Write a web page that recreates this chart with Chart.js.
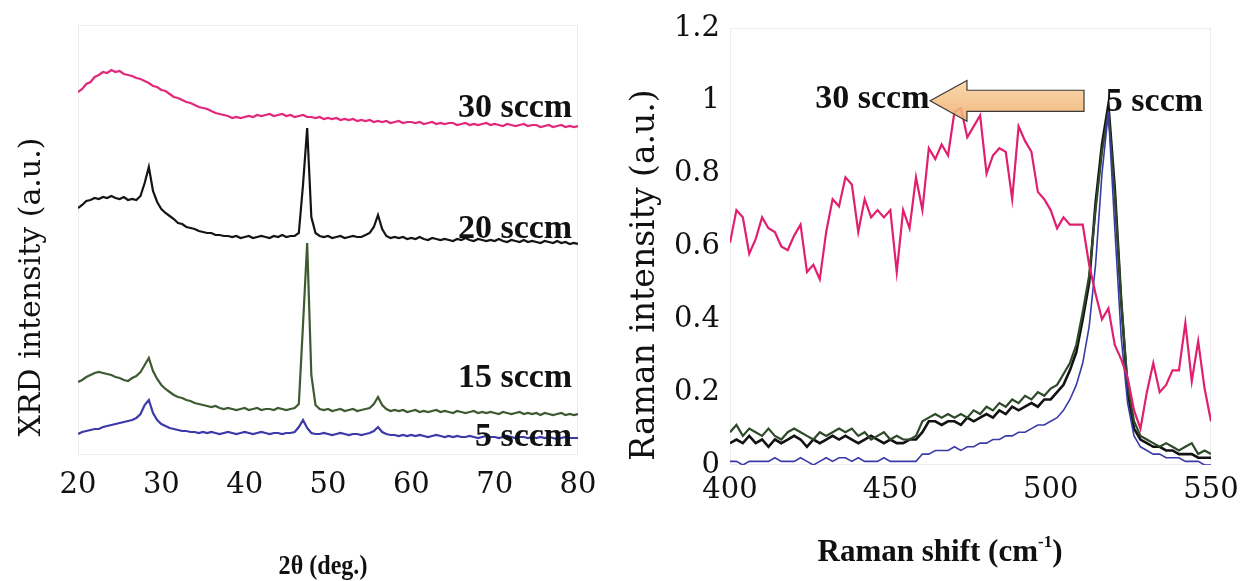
<!DOCTYPE html>
<html>
<head>
<meta charset="utf-8">
<script src="https://cdn.jsdelivr.net/npm/chart.js@4.4.1/dist/chart.umd.min.js"></script>
<style>
  html, body { margin: 0; padding: 0; background: #fff; }
  body { width: 1249px; height: 581px; position: relative; overflow: hidden; }
  .panel { position: absolute; top: 0; height: 581px; }
  #xrd-wrap { left: 0; width: 620px; }
  #raman-wrap { left: 620px; width: 629px; }
</style>
</head>
<body>
<div class="panel" id="xrd-wrap"><canvas id="xrd"></canvas></div>
<div class="panel" id="raman-wrap"><canvas id="raman"></canvas></div>
<script>
// ---- XRD patterns (2θ in degrees, intensity in arbitrary offset units) ----
const xrdAngles = [
  20, 20.5, 21, 21.5, 22, 22.5, 23, 23.5, 24, 24.5,
  25, 25.5, 26, 26.5, 27, 27.5, 28, 28.5, 29, 29.5,
  30, 30.5, 31, 31.5, 32, 32.5, 33, 33.5, 34, 34.5,
  35, 35.5, 36, 36.5, 37, 37.5, 38, 38.5, 39, 39.5,
  40, 40.5, 41, 41.5, 42, 42.5, 43, 43.5, 44, 44.5,
  45, 45.5, 46, 46.5, 47, 47.5, 48, 48.5, 49, 49.5,
  50, 50.5, 51, 51.5, 52, 52.5, 53, 53.5, 54, 54.5,
  55, 55.5, 56, 56.5, 57, 57.5, 58, 58.5, 59, 59.5,
  60, 60.5, 61, 61.5, 62, 62.5, 63, 63.5, 64, 64.5,
  65, 65.5, 66, 66.5, 67, 67.5, 68, 68.5, 69, 69.5,
  70, 70.5, 71, 71.5, 72, 72.5, 73, 73.5, 74, 74.5,
  75, 75.5, 76, 76.5, 77, 77.5, 78, 78.5, 79, 79.5,
  80
];

const xrd30sccm = [
  363, 366, 371, 373, 378, 380, 383, 382, 385, 383,
  384, 381, 380, 379, 377, 376, 374, 372, 369, 368,
  365, 364, 361, 358, 357, 355, 353, 352, 350, 348,
  347, 346, 344, 342, 341, 340, 339, 337, 338, 337,
  338, 339, 338, 340, 339, 340, 341, 339, 340, 341,
  339, 340, 338, 339, 340, 338, 338, 337, 338, 336,
  337, 336, 337, 335, 336, 335, 336, 334, 335, 334,
  335, 333, 334, 333, 334, 332, 333, 334, 332, 333,
  333, 332, 333, 331, 332, 333, 331, 332, 331, 332,
  332, 330, 331, 332, 330, 331, 330, 331, 332, 330,
  331, 330, 329, 331, 330, 329, 330, 331, 329, 330,
  330, 328, 329, 330, 328, 329, 330, 328, 329, 328,
  329
];

const xrd20sccm = [
  247, 250, 254, 255, 257, 256, 258, 257, 259, 257,
  256, 258, 255, 256, 255, 259, 272, 288, 264, 253,
  246, 242, 239, 236, 232, 231, 228, 227, 226, 224,
  223, 222, 222, 220, 220, 219, 219, 218, 219, 217,
  218, 219, 217, 218, 219, 218, 217, 219, 218, 220,
  218, 219, 219, 222, 270, 327, 238, 222, 219, 218,
  219, 217, 218, 219, 217, 218, 219, 218, 218, 220,
  222, 228, 240, 226, 219, 217, 218, 217, 218, 216,
  217, 216, 218, 216, 215, 217, 216, 215, 216, 215,
  214, 216, 215, 217, 215, 214, 216, 215, 214, 215,
  214, 216, 214, 213, 215, 214, 213, 215, 213, 214,
  213, 212, 214, 213, 212, 214, 212, 213, 211, 212,
  211
];

const xrd15sccm = [
  73, 75, 78, 80, 82, 83, 82, 81, 80, 78,
  77, 75, 74, 77, 79, 83, 90, 97, 84, 76,
  70, 66, 63, 60, 58, 57, 55, 54, 52, 51,
  50, 49, 48, 49, 47, 46, 47, 46, 45, 46,
  47, 45, 46, 47, 45, 46, 46, 45, 47, 46,
  45, 46, 47, 51, 130, 212, 80, 50, 46, 45,
  46, 44, 45, 46, 44, 45, 46, 44, 45, 46,
  47, 51, 58, 50, 46, 44, 45, 44, 45, 43,
  44, 45, 43, 44, 43, 44, 45, 43, 44, 43,
  42, 44, 43, 42, 43, 44, 42, 43, 42, 43,
  42, 41, 43, 42, 41, 42, 43, 41, 42, 41,
  42, 40, 42, 41, 40, 41, 42, 40, 41, 40,
  41
];

const xrd5sccm = [
  21, 23, 24, 25, 26, 26, 28, 29, 30, 31,
  32, 33, 34, 35, 37, 41, 50, 55, 42, 35,
  31, 29, 27, 26, 25, 24, 24, 23, 23, 22,
  23, 22, 23, 22, 21, 22, 23, 22, 21, 22,
  23, 22, 21, 22, 23, 22, 21, 22, 22, 21,
  22, 22, 23, 28, 35, 27, 22, 21, 21, 22,
  21, 20, 21, 22, 21, 20, 21, 21, 20, 21,
  22, 24, 28, 23, 21, 20, 20, 19, 20, 19,
  20, 19, 20, 19, 18, 19, 20, 19, 18, 19,
  18, 19, 18, 18, 19, 18, 17, 18, 19, 18,
  18, 17, 18, 19, 18, 17, 18, 18, 17, 18,
  17, 18, 17, 18, 17, 16, 17, 18, 17, 17,
  17
];

// ---- Raman spectra (normalised) ----
const ramanShift = [
  400, 402, 404, 406, 408, 410, 412, 414, 416, 418,
  420, 422, 424, 426, 428, 430, 432, 434, 436, 438,
  440, 442, 444, 446, 448, 450, 452, 454, 456, 458,
  460, 462, 464, 466, 468, 470, 472, 474, 476, 478,
  480, 482, 484, 486, 488, 490, 492, 494, 496, 498,
  500, 502, 504, 506, 508, 510, 512, 514, 516, 518,
  520, 522, 524, 526, 528, 530, 532, 534, 536, 538,
  540, 542, 544, 546, 548, 550
];

const raman30sccm = [
  0.61, 0.70, 0.68, 0.58, 0.62, 0.68, 0.65, 0.64, 0.60, 0.59,
  0.63, 0.66, 0.53, 0.55, 0.51, 0.64, 0.73, 0.71, 0.79, 0.77,
  0.64, 0.73, 0.68, 0.70, 0.68, 0.70, 0.53, 0.70, 0.65, 0.79,
  0.70, 0.87, 0.84, 0.88, 0.85, 0.97, 0.98, 0.90, 0.93, 0.96,
  0.80, 0.85, 0.87, 0.86, 0.73, 0.93, 0.89, 0.86, 0.75, 0.73,
  0.70, 0.65, 0.68, 0.66, 0.66, 0.66, 0.55, 0.47, 0.40, 0.43,
  0.33, 0.29, 0.24, 0.15, 0.10, 0.20, 0.28, 0.20, 0.22, 0.26,
  0.26, 0.39, 0.23, 0.34, 0.21, 0.12
];

const ramanBlack = [
  0.06, 0.07, 0.06, 0.08, 0.06, 0.07, 0.05, 0.07, 0.06, 0.07,
  0.08, 0.07, 0.05, 0.07, 0.06, 0.07, 0.08, 0.07, 0.08, 0.07,
  0.06, 0.07, 0.08, 0.07, 0.06, 0.07, 0.06, 0.06, 0.07, 0.07,
  0.09, 0.12, 0.12, 0.11, 0.12, 0.12, 0.11, 0.13, 0.12, 0.13,
  0.14, 0.13, 0.15, 0.14, 0.16, 0.15, 0.16, 0.17, 0.16, 0.18,
  0.18, 0.20, 0.22, 0.26, 0.31, 0.40, 0.50, 0.72, 0.88, 0.99,
  0.76, 0.45, 0.20, 0.10, 0.07, 0.06, 0.05, 0.05, 0.04, 0.04,
  0.03, 0.03, 0.03, 0.02, 0.02, 0.02
];

const ramanGreen = [
  0.09, 0.11, 0.08, 0.10, 0.09, 0.08, 0.10, 0.08, 0.07, 0.09,
  0.10, 0.09, 0.08, 0.07, 0.09, 0.08, 0.09, 0.10, 0.09, 0.10,
  0.08, 0.09, 0.07, 0.08, 0.09, 0.07, 0.08, 0.07, 0.07, 0.08,
  0.12, 0.13, 0.14, 0.13, 0.14, 0.13, 0.14, 0.13, 0.15, 0.14,
  0.16, 0.15, 0.17, 0.16, 0.18, 0.17, 0.19, 0.18, 0.20, 0.19,
  0.21, 0.22, 0.25, 0.28, 0.33, 0.42, 0.52, 0.70, 0.86, 0.97,
  0.74, 0.45, 0.22, 0.12, 0.08, 0.07, 0.06, 0.05, 0.06, 0.05,
  0.04, 0.05, 0.06, 0.03, 0.04, 0.03
];

const raman5sccm = [
  0.01, 0.01, 0.00, 0.01, 0.01, 0.01, 0.01, 0.02, 0.01, 0.01,
  0.01, 0.02, 0.01, 0.00, 0.01, 0.02, 0.01, 0.02, 0.02, 0.01,
  0.02, 0.01, 0.01, 0.01, 0.02, 0.01, 0.01, 0.01, 0.01, 0.01,
  0.03, 0.03, 0.04, 0.04, 0.04, 0.05, 0.04, 0.05, 0.05, 0.06,
  0.06, 0.07, 0.07, 0.08, 0.08, 0.09, 0.09, 0.10, 0.11, 0.11,
  0.12, 0.13, 0.15, 0.18, 0.22, 0.28, 0.38, 0.55, 0.80, 0.97,
  0.65, 0.35, 0.17, 0.08, 0.05, 0.04, 0.03, 0.03, 0.02, 0.02,
  0.02, 0.01, 0.01, 0.01, 0.00, 0.00
];

const ramanTicks = [0, 0.2, 0.4, 0.6, 0.8, 1, 1.2];

// flow labels: [text, x, baseline y, align]
const xrdFlowLabels = [
  ['30 sccm', 79.3, 338, 'right'],
  ['20 sccm', 79.3, 217, 'right'],
  ['15 sccm', 79.3, 68, 'right'],
  ['5 sccm', 79.3, 9, 'right']
];
const ramanFlowLabels = [
  ['30 sccm', 462.2, 0.98, 'right'],
  ['5 sccm', 517.2, 0.972, 'left']
];
// arrow from the 5 sccm peak towards the 30 sccm band, in data units
const ramanArrow = { tipX: 462.4, tipY: 1.0, neckX: 473.9, tailX: 510.4, headHalf: 0.056, bodyHalf: 0.029 };

const TICK_FONT = { family: 'DejaVu Serif', size: 29 };
const LABEL_FONT = 'bold 34px "Liberation Serif"';
const FRAME_COLOR = '#ececec';

function toPoints(xs, ys) {
  return xs.map((x, i) => ({ x, y: ys[i] }));
}

function line(data, color, width) {
  return {
    data,
    borderColor: color,
    borderWidth: width,
    pointRadius: 0,
    tension: 0,
    fill: false
  };
}

function drawArrow(ctx, xs, ys, a) {
  const px = v => xs.getPixelForValue(v);
  const py = v => ys.getPixelForValue(v);
  ctx.save();
  ctx.beginPath();
  ctx.moveTo(px(a.tipX), py(a.tipY));
  ctx.lineTo(px(a.neckX), py(a.tipY + a.headHalf));
  ctx.lineTo(px(a.neckX), py(a.tipY + a.bodyHalf));
  ctx.lineTo(px(a.tailX), py(a.tipY + a.bodyHalf));
  ctx.lineTo(px(a.tailX), py(a.tipY - a.bodyHalf));
  ctx.lineTo(px(a.neckX), py(a.tipY - a.bodyHalf));
  ctx.lineTo(px(a.neckX), py(a.tipY - a.headHalf));
  ctx.closePath();
  const g = ctx.createLinearGradient(0, py(a.tipY + a.headHalf), 0, py(a.tipY - a.headHalf));
  g.addColorStop(0, '#f9d3a2');
  g.addColorStop(1, '#eeae6c');
  ctx.globalAlpha = 0.88;
  ctx.fillStyle = g;
  ctx.fill();
  ctx.globalAlpha = 1;
  ctx.strokeStyle = '#3a3a3a';
  ctx.lineWidth = 1.2;
  ctx.stroke();
  ctx.restore();
}

// draws text with an optional superscript part: [[text, isSup], ...]
function drawRichTitle(ctx, parts, cx, cy, font, supFont, squeeze = 1) {
  ctx.save();
  ctx.translate(cx, cy);
  ctx.scale(squeeze, 1);
  ctx.textBaseline = 'middle';
  ctx.textAlign = 'left';
  ctx.fillStyle = '#111';
  let total = 0;
  parts.forEach(([t, sup]) => { ctx.font = sup ? supFont : font; total += ctx.measureText(t).width; });
  let x = -total / 2;
  parts.forEach(([t, sup]) => {
    ctx.font = sup ? supFont : font;
    ctx.fillText(t, x, sup ? -10 : 0);
    x += ctx.measureText(t).width;
  });
  ctx.restore();
}

const panelDecor = {
  id: 'panelDecor',
  beforeDatasetsDraw(chart) {
    const { ctx, chartArea: a } = chart;
    ctx.save();
    ctx.strokeStyle = FRAME_COLOR;
    ctx.lineWidth = 1;
    ctx.strokeRect(a.left + 0.5, a.top + 0.5, a.width - 1, a.height - 1);
    ctx.restore();
  },
  afterDatasetsDraw(chart, args, opts) {
    const { ctx, chartArea: a, scales: { x, y } } = chart;
    if (opts.arrow) drawArrow(ctx, x, y, opts.arrow);

    ctx.save();
    ctx.font = LABEL_FONT;
    ctx.fillStyle = '#111';
    ctx.textBaseline = 'alphabetic';
    opts.labels.forEach(([text, lx, ly, align]) => {
      ctx.textAlign = align;
      ctx.fillText(text, x.getPixelForValue(lx), y.getPixelForValue(ly));
    });

    // vertical axis title
    const yt = opts.yTitle;
    ctx.translate(a.left + yt.dx, a.top + yt.dy);
    ctx.rotate(-Math.PI / 2);
    ctx.font = yt.font;
    ctx.textAlign = 'center';
    ctx.textBaseline = 'middle';
    ctx.fillText(yt.text, 0, 0);
    ctx.restore();

    const xt = opts.xTitle;
    drawRichTitle(ctx, xt.parts, a.left + xt.dx, a.bottom + xt.dy, xt.font,
      'bold 17px "Liberation Serif"', xt.squeeze);
  }
};

const baseOptions = {
  responsive: true,
  maintainAspectRatio: false,
  animation: false,
  events: [],
  plugins: { legend: { display: false }, tooltip: { enabled: false } }
};

new Chart(document.getElementById('xrd'), {
  type: 'line',
  data: {
    datasets: [
      line(toPoints(xrdAngles, xrd30sccm), '#e2287a', 2.2),
      line(toPoints(xrdAngles, xrd20sccm), '#141414', 2.2),
      line(toPoints(xrdAngles, xrd15sccm), '#3e5a30', 2.2),
      line(toPoints(xrdAngles, xrd5sccm), '#3b3aa8', 2.2)
    ]
  },
  options: {
    ...baseOptions,
    layout: { padding: { left: 78, right: 42, top: 25, bottom: 56 } },
    scales: {
      x: {
        type: 'linear',
        min: 20,
        max: 80,
        afterFit: s => { s.height = 70; },
        grid: { display: false, drawTicks: false },
        border: { display: false },
        ticks: { stepSize: 10, padding: 13, color: '#111', font: TICK_FONT, maxRotation: 0 }
      },
      y: {
        type: 'linear',
        min: 0,
        max: 430,
        display: false
      }
    },
    plugins: {
      ...baseOptions.plugins,
      panelDecor: {
        labels: xrdFlowLabels,
        yTitle: { text: 'XRD intensity (a.u.)', font: '30px "DejaVu Serif"', dx: -46, dy: 262 },
        xTitle: { parts: [['2θ (deg.)', false]], font: 'bold 28px "Liberation Serif"', squeeze: 0.86, dx: 245, dy: 112 }
      }
    }
  },
  plugins: [panelDecor]
});

new Chart(document.getElementById('raman'), {
  type: 'line',
  data: {
    datasets: [
      line(toPoints(ramanShift, raman30sccm), '#e0206e', 2.2),
      line(toPoints(ramanShift, raman5sccm), '#3a3aa6', 1.6),
      line(toPoints(ramanShift, ramanGreen), '#2f4a2a', 2.2),
      line(toPoints(ramanShift, ramanBlack), '#121212', 2.6)
    ]
  },
  options: {
    ...baseOptions,
    layout: { padding: { left: 0, right: 38, top: 28, bottom: 46 } },
    scales: {
      x: {
        type: 'linear',
        min: 400,
        max: 550,
        afterFit: s => { s.height = 70; },
        grid: { display: false, drawTicks: false },
        border: { display: false },
        ticks: { stepSize: 50, padding: 8, color: '#111', font: TICK_FONT, maxRotation: 0 }
      },
      y: {
        type: 'linear',
        min: 0,
        max: 1.2,
        afterFit: s => { s.width = 110; },
        afterBuildTicks: s => { s.ticks = ramanTicks.map(v => ({ value: v })); },
        grid: { display: false, drawTicks: false },
        border: { display: false },
        ticks: {
          padding: 10,
          color: '#111',
          font: TICK_FONT,
          callback: v => String(Number(v.toFixed(1)))
        }
      }
    },
    plugins: {
      ...baseOptions.plugins,
      panelDecor: {
        labels: ramanFlowLabels,
        arrow: ramanArrow,
        yTitle: { text: 'Raman intensity (a.u.)', font: '33px "DejaVu Serif"', dx: -85, dy: 247 },
        xTitle: { parts: [['Raman shift (cm', false], ['-1', true], [')', false]], font: 'bold 31px "Liberation Serif"', dx: 210, dy: 88 }
      }
    }
  },
  plugins: [panelDecor]
});
</script>
</body>
</html>
